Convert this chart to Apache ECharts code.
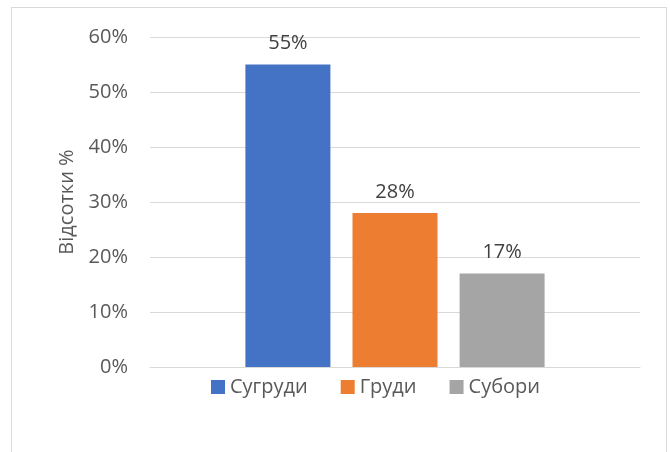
<!DOCTYPE html>
<html>
<head>
<meta charset="utf-8">
<script src="https://cdn.jsdelivr.net/npm/echarts@6/dist/echarts.min.js"></script>
<style>
  html, body { margin: 0; padding: 0; background: #fff; }
  #wrap { position: relative; width: 670px; height: 452px; overflow: hidden; }
  #frame { position: absolute; left: 11px; top: 7px; width: 656px; height: 470px; border: 1px solid #d9d9d9; box-sizing: border-box; }
  #chart { position: absolute; left: 0; top: 0; width: 670px; height: 452px; }
</style>
</head>
<body>
<div id="wrap">
  <div id="frame"></div>
  <div id="chart"></div>
</div>
<script>
const categories = ['']
const seriesNames = ['Сугруди', 'Груди', 'Субори']
const seriesValues = [[55], [28], [17]]
const seriesColors = ['#4472c4', '#ed7d31', '#a5a5a5']
const yTicks = { min: 0, max: 60, interval: 10 }

const font = '"Open Sans", "Noto Sans", sans-serif'
const textColor = '#595959'

const chart = echarts.init(document.getElementById('chart'), null, { renderer: 'canvas' })

const option = {
  backgroundColor: 'transparent',
  animation: false,
  textStyle: { fontFamily: font },
  legend: {
    data: seriesNames,
    bottom: 50,
    left: 206,
    itemWidth: 14,
    itemHeight: 14,
    itemGap: 33,
    icon: 'rect',
    textStyle: { color: textColor, fontSize: 20, fontFamily: font }
  },
  grid: {
    left: 150,
    right: 30,
    top: 37,
    bottom: 85
  },
  xAxis: {
    type: 'category',
    data: categories,
    axisTick: { show: false },
    axisLabel: { show: false },
    axisLine: { lineStyle: { color: '#d9d9d9', width: 1 } }
  },
  yAxis: {
    type: 'value',
    min: yTicks.min,
    max: yTicks.max,
    interval: yTicks.interval,
    name: 'Відсотки %',
    nameLocation: 'middle',
    nameRotate: 90,
    nameGap: 70,
    nameTextStyle: { color: textColor, fontSize: 20, fontFamily: font },
    axisLine: { show: false },
    axisTick: { show: false },
    axisLabel: {
      color: textColor,
      fontSize: 20,
      fontFamily: font,
      margin: 22,
      formatter: v => v + '%'
    },
    splitLine: { lineStyle: { color: '#d9d9d9', width: 1 } }
  },
  series: seriesNames.map((name, i) => ({
    name: name,
    type: 'bar',
    data: seriesValues[i],
    barWidth: 85,
    barGap: '26%',
    itemStyle: { color: seriesColors[i] },
    label: {
      show: true,
      position: 'top',
      distance: 11,
      color: '#404040',
      fontSize: 20,
      fontFamily: font,
      formatter: p => p.value + '%'
    }
  }))
}

chart.setOption(option)
</script>
</body>
</html>
